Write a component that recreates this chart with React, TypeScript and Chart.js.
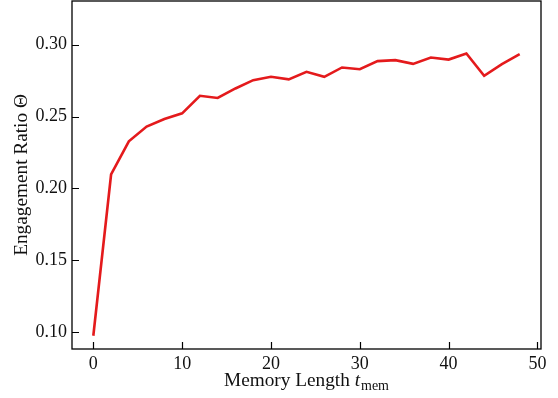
import { useEffect, useRef } from "react";
import { Chart, registerables } from "chart.js";

Chart.register(...registerables);

const memoryLength = [0, 2, 4, 6, 8, 10, 12, 14, 16, 18, 20, 22, 24, 26, 28, 30, 32, 34, 36, 38, 40, 42, 44, 46, 48];
const engagementRatio = [
  0.0976, 0.2097, 0.2328, 0.243, 0.2483, 0.2522, 0.2644, 0.2629, 0.2695, 0.2753,
  0.2776, 0.2758, 0.2811, 0.2776, 0.2841, 0.2829, 0.2885, 0.2892, 0.2866, 0.291,
  0.2896, 0.2938, 0.2783, 0.2864, 0.2933,
];
const xTickValues = [0, 10, 20, 30, 40, 50];
const yTickValues = [0.1, 0.15, 0.2, 0.25, 0.3];
const xLabelMain = "Memory Length ";
const xLabelVar = "t";
const xLabelSub = "mem";
const yLabel = "Engagement Ratio Θ";

const FONT = "'Liberation Serif', 'DejaVu Serif', serif";
const FONT_SIZE = 18;
const TITLE_SIZE = 19.3;

const framePlugin = {
  id: "frameAndTicks",
  afterDraw(chart: any) {
    const { ctx, chartArea, scales } = chart;
    const { left, right, top, bottom } = chartArea;
    const x = scales.x;
    const y = scales.y;
    ctx.save();
    ctx.strokeStyle = "#000";
    ctx.lineWidth = 1.3;
    ctx.strokeRect(left, top, right - left, bottom - top);
    ctx.lineWidth = 1.2;
    ctx.beginPath();
    for (const v of xTickValues) {
      const px = Math.round(x.getPixelForValue(v)) + 0.5;
      ctx.moveTo(px, bottom);
      ctx.lineTo(px, bottom - 7);
    }
    for (const v of yTickValues) {
      const py = Math.round(y.getPixelForValue(v)) + 0.5;
      ctx.moveTo(left, py);
      ctx.lineTo(left + 7, py);
    }
    ctx.stroke();

    // Y title
    ctx.fillStyle = "#111";
    ctx.font = `${TITLE_SIZE}px ${FONT}`;
    ctx.textAlign = "center";
    ctx.textBaseline = "alphabetic";
    ctx.save();
    ctx.translate(27, (top + bottom) / 2);
    ctx.rotate(-Math.PI / 2);
    ctx.fillText(yLabel, 0, 0);
    ctx.restore();

    // X title with subscript
    const mainFont = `${TITLE_SIZE}px ${FONT}`;
    const varFont = `italic ${TITLE_SIZE}px ${FONT}`;
    const subFont = `${Math.round(TITLE_SIZE * 0.72)}px ${FONT}`;
    ctx.font = mainFont;
    const w1 = ctx.measureText(xLabelMain).width;
    ctx.font = varFont;
    const w2 = ctx.measureText(xLabelVar).width;
    ctx.font = subFont;
    const w3 = ctx.measureText(xLabelSub).width;
    const total = w1 + w2 + 1 + w3;
    let cx = (left + right) / 2 - total / 2;
    const baseY = 386;
    ctx.textAlign = "left";
    ctx.font = mainFont;
    ctx.fillText(xLabelMain, cx, baseY);
    cx += w1;
    ctx.font = varFont;
    ctx.fillText(xLabelVar, cx, baseY);
    cx += w2 + 1;
    ctx.font = subFont;
    ctx.fillText(xLabelSub, cx, baseY + 4);
    ctx.restore();
  },
};

export default function App() {
  const canvasRef = useRef<HTMLCanvasElement | null>(null);

  useEffect(() => {
    if (!canvasRef.current) return;
    const chart = new Chart(canvasRef.current, {
      type: "line",
      data: {
        datasets: [
          {
            data: memoryLength.map((m, i) => ({ x: m, y: engagementRatio[i] })),
            borderColor: "#e41a1c",
            borderWidth: 2.6,
            pointRadius: 0,
            tension: 0,
            fill: false,
          },
        ],
      },
      options: {
        responsive: false,
        animation: false,
        layout: { padding: { top: 1, right: 17, left: 0, bottom: 0 } },
        plugins: { legend: { display: false }, tooltip: { enabled: false } },
        scales: {
          x: {
            type: "linear",
            min: -2.4,
            max: 50.4,
            grid: { display: false, drawTicks: false },
            border: { display: false },
            afterBuildTicks: (s: any) => {
              s.ticks = xTickValues.map((v) => ({ value: v }));
            },
            afterFit: (s: any) => {
              s.height = 49;
              s.paddingLeft = 0;
              s.paddingRight = 0;
            },
            ticks: {
              padding: 4,
              color: "#111",
              font: { family: FONT, size: FONT_SIZE },
              maxRotation: 0,
              callback: (v: any) => String(v),
            },
          },
          y: {
            type: "linear",
            min: 0.0884,
            max: 0.3303,
            grid: { display: false, drawTicks: false },
            border: { display: false },
            afterBuildTicks: (s: any) => {
              s.ticks = yTickValues.map((v) => ({ value: v }));
            },
            afterFit: (s: any) => {
              s.width = 72;
              s.paddingTop = 0;
              s.paddingBottom = 0;
            },
            ticks: {
              padding: 5,
              color: "#111",
              font: { family: FONT, size: FONT_SIZE },
              callback: (v: any) => Number(v).toFixed(2),
            },
          },
        },
      },
      plugins: [framePlugin],
    });
    return () => chart.destroy();
  }, []);

  return (
    <div style={{ position: "absolute", left: 0, top: 0, width: 558, height: 398, background: "#fff" }}>
      <canvas ref={canvasRef} width={558} height={398} style={{ width: 558, height: 398, display: "block" }} />
    </div>
  );
}
